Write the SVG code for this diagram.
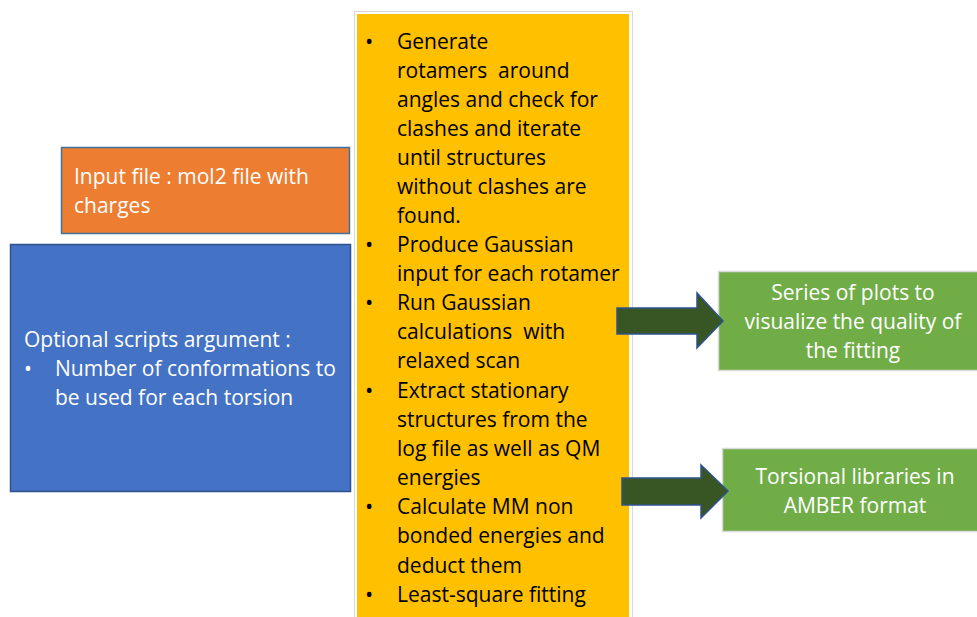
<svg xmlns="http://www.w3.org/2000/svg" width="977" height="617" viewBox="0 0 977 617">
<style>
text{font-family:"Open Sans","Liberation Sans",sans-serif;font-size:21px;white-space:pre}
.k{fill:#000}
.w{fill:#fff}
.c{text-anchor:middle}
.b{font-size:22px}
</style>
<rect width="977" height="617" fill="#fff"/>
<g id="steps">
<rect x="354.5" y="11.5" width="278" height="620" fill="#fff" stroke="#d9d9d9"/>
<rect x="357" y="14" width="272" height="610" fill="#ffc000"/>
<g class="k">
<text class="b" x="365" y="49">•</text><text x="397" y="49">Generate</text>
<text x="397" y="78" xml:space="preserve">rotamers  around</text>
<text x="397" y="107">angles and check for</text>
<text x="397" y="136">clashes and iterate</text>
<text x="397" y="165">until structures</text>
<text x="397" y="194">without clashes are</text>
<text x="397" y="223">found.</text>
<text class="b" x="365" y="252">•</text><text x="397" y="252">Produce Gaussian</text>
<text x="397" y="281">input for each rotamer</text>
<text class="b" x="365" y="310">•</text><text x="397" y="310">Run Gaussian</text>
<text x="397" y="339" xml:space="preserve">calculations  with</text>
<text x="397" y="368">relaxed scan</text>
<text class="b" x="365" y="398">•</text><text x="397" y="398">Extract stationary</text>
<text x="397" y="427">structures from the</text>
<text x="397" y="456">log file as well as QM</text>
<text x="397" y="485">energies</text>
<text class="b" x="365" y="514">•</text><text x="397" y="514">Calculate MM non</text>
<text x="397" y="543">bonded energies and</text>
<text x="397" y="573">deduct them</text>
<text class="b" x="365" y="602">•</text><text x="397" y="602">Least-square fitting</text>
</g>
</g>
<g id="input">
<rect x="61.5" y="147.5" width="288" height="86" fill="#ed7d31" stroke="#41719c" stroke-width="1.5"/>
<text class="w" x="74" y="184">Input file : mol2 file with</text>
<text class="w" x="74" y="213">charges</text>
</g>
<g id="options">
<rect x="10.5" y="244.5" width="340" height="247" fill="#4472c4" stroke="#2f528f" stroke-width="1.5"/>
<text class="w" x="24" y="347">Optional scripts argument :</text>
<text class="w" x="24" y="376">•</text><text class="w" x="55" y="376">Number of conformations to</text>
<text class="w" x="55" y="405">be used for each torsion</text>
</g>
<g id="plots">
<rect x="718.5" y="271.5" width="262" height="99" fill="#70ad47" stroke="#d9d9d9" stroke-width="1.5"/>
<text class="w c" x="853" y="300">Series of plots to</text>
<text class="w c" x="853" y="329">visualize the quality of</text>
<text class="w c" x="853" y="358">the fitting</text>
</g>
<g id="libraries">
<rect x="722.5" y="448.5" width="258" height="83" fill="#70ad47" stroke="#d9d9d9" stroke-width="1.5"/>
<text class="w c" x="855" y="484">Torsional libraries in</text>
<text class="w c" x="855" y="513">AMBER format</text>
</g>
<g id="connectors" fill="#375623" stroke="#2f528f" stroke-width="1.5" stroke-linejoin="miter">
<path d="M617,308 H697 V293 L723,321 L697,348 V334 H617 Z"/>
<path d="M622,478 H701 V465 L728,491 L701,518 V505 H622 Z"/>
</g>
</svg>
